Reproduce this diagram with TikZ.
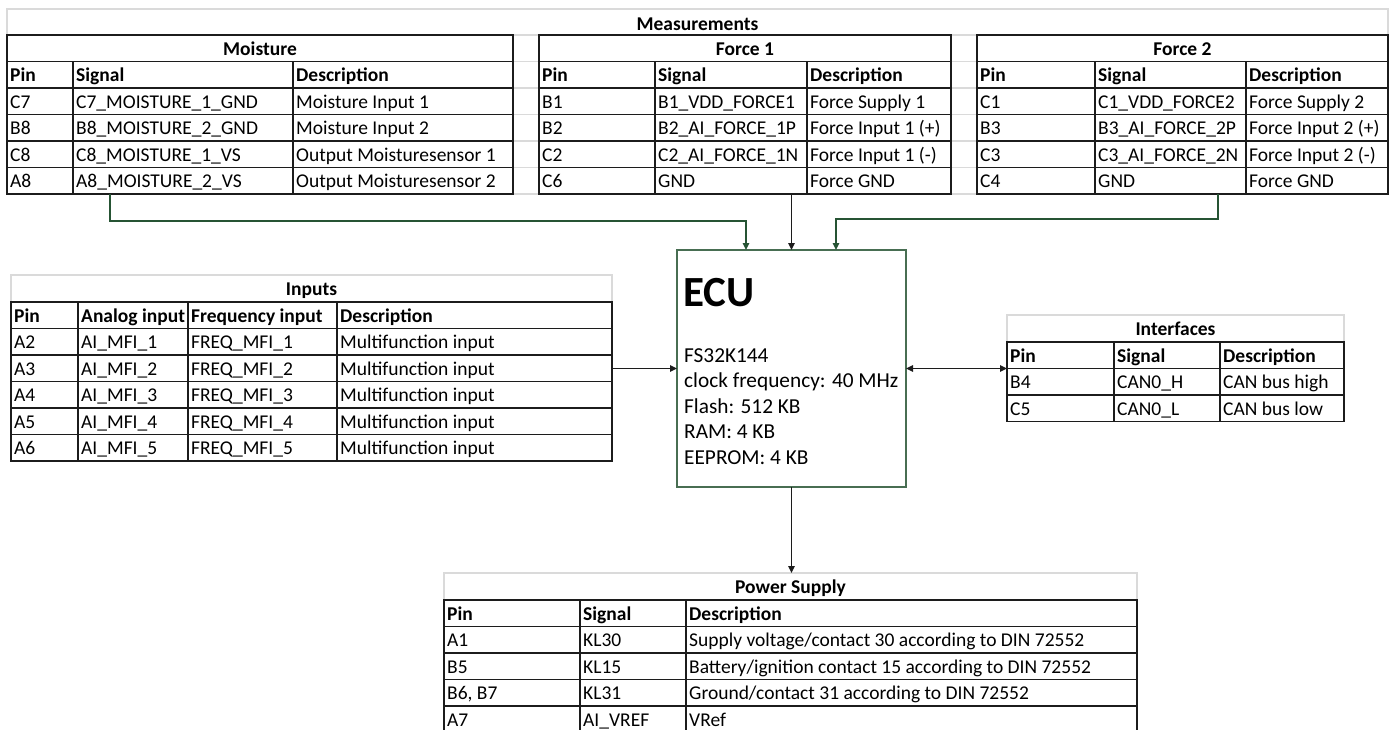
\documentclass[tikz,border=0pt]{standalone}
\usepackage{fontspec}
\setmainfont{Carlito}
\usetikzlibrary{arrows.meta}
\definecolor{gridgray}{RGB}{218,218,218}
\definecolor{ecugreen}{RGB}{72,110,82}
\definecolor{conngreen}{RGB}{38,84,52}
\definecolor{tline}{RGB}{28,28,28}
\newcommand\tabfont{\fontsize{19.5}{23}\selectfont}
\begin{document}
\begin{tikzpicture}[x=1pt,y=-1pt,
  tl/.style={draw=tline,line width=1.8pt},
  gl/.style={draw=gridgray,line width=1.4pt},
  frame/.style={draw=tline,line width=1.8pt,inner sep=0pt,outer sep=0pt,anchor=north west},
  headbox/.style={draw=gridgray,line width=1.4pt,inner sep=0pt,outer sep=0pt,anchor=north west},
  cell/.style={anchor=base west,inner sep=0pt,font=\tabfont},
  hcell/.style={anchor=base west,inner sep=0pt,font=\tabfont\bfseries},
  ttl/.style={anchor=base,inner sep=0pt,font=\tabfont\bfseries},
  conn/.style={line width=1.3pt,-{Triangle[length=7pt,width=6.5pt]}},
  bconn/.style={line width=1.3pt,{Triangle[length=7pt,width=6.5pt]}-{Triangle[length=7pt,width=6.5pt]}},
]
\useasboundingbox (0,0) rectangle (1395,729);

% ---------------- Measurements ----------------
\node[headbox,minimum width=1381pt,minimum height=26pt] (meashead) at (7,9) {};
\node[ttl] (meastitle) at (697.5,30) {Measurements};
\foreach \y in {35,61.5,88,114.5,141,167.5,194}{
  \draw[gl] (513,\y) -- (539,\y);
  \draw[gl] (951,\y) -- (977,\y);
}

% Moisture
\node[frame,minimum width=506pt,minimum height=159pt] (moist) at (7,35) {};
\foreach \y in {61.5,88,114.5,141,167.5} \draw[tl] (7,\y) -- (513,\y);
\foreach \x in {73,293} \draw[tl] (\x,61.5) -- (\x,194);
\node[ttl] (motitle) at (260,55) {Moisture};
\node[hcell] (moh1) at (10,81.5) {Pin};
\node[hcell] (moh2) at (76,81.5) {Signal};
\node[hcell] (moh3) at (296,81.5) {Description};
\foreach \a/\b/\c [count=\i] in {C7/C7\_MOISTURE\_1\_GND/Moisture Input 1,
  B8/B8\_MOISTURE\_2\_GND/Moisture Input 2,
  C8/C8\_MOISTURE\_1\_VS/Output Moisturesensor 1,
  A8/A8\_MOISTURE\_2\_VS/Output Moisturesensor 2}{
  \pgfmathsetmacro\yy{88+(\i-1)*26.5+20}
  \node[cell] (mo-\i-1) at (10,\yy) {\a};
  \node[cell] (mo-\i-2) at (76,\yy) {\b};
  \node[cell] (mo-\i-3) at (296,\yy) {\c};
}

% Force 1
\node[frame,minimum width=412pt,minimum height=159pt] (fone) at (539,35) {};
\foreach \y in {61.5,88,114.5,141,167.5} \draw[tl] (539,\y) -- (951,\y);
\foreach \x in {655,807} \draw[tl] (\x,61.5) -- (\x,194);
\node[ttl] (f1title) at (745,55) {Force 1};
\node[hcell] (f1h1) at (542,81.5) {Pin};
\node[hcell] (f1h2) at (658,81.5) {Signal};
\node[hcell] (f1h3) at (810,81.5) {Description};
\foreach \a/\b/\c [count=\i] in {B1/B1\_VDD\_FORCE1/Force Supply 1,
  B2/B2\_AI\_FORCE\_1P/Force Input 1 (+),
  C2/C2\_AI\_FORCE\_1N/Force Input 1 (-),
  C6/GND/Force GND}{
  \pgfmathsetmacro\yy{88+(\i-1)*26.5+20}
  \node[cell] (fa-\i-1) at (542,\yy) {\a};
  \node[cell] (fa-\i-2) at (658,\yy) {\b};
  \node[cell] (fa-\i-3) at (810,\yy) {\c};
}

% Force 2
\node[frame,minimum width=411pt,minimum height=159pt] (ftwo) at (977,35) {};
\foreach \y in {61.5,88,114.5,141,167.5} \draw[tl] (977,\y) -- (1388,\y);
\foreach \x in {1095,1246} \draw[tl] (\x,61.5) -- (\x,194);
\node[ttl] (f2title) at (1182.5,55) {Force 2};
\node[hcell] (f2h1) at (980,81.5) {Pin};
\node[hcell] (f2h2) at (1098,81.5) {Signal};
\node[hcell] (f2h3) at (1249,81.5) {Description};
\foreach \a/\b/\c [count=\i] in {C1/C1\_VDD\_FORCE2/Force Supply 2,
  B3/B3\_AI\_FORCE\_2P/Force Input 2 (+),
  C3/C3\_AI\_FORCE\_2N/Force Input 2 (-),
  C4/GND/Force GND}{
  \pgfmathsetmacro\yy{88+(\i-1)*26.5+20}
  \node[cell] (fb-\i-1) at (980,\yy) {\a};
  \node[cell] (fb-\i-2) at (1098,\yy) {\b};
  \node[cell] (fb-\i-3) at (1249,\yy) {\c};
}

% ---------------- Inputs ----------------
\node[headbox,minimum width=601pt,minimum height=27pt] (inphead) at (11,275) {};
\node[frame,minimum width=601pt,minimum height=159pt] (inp) at (11,302) {};
\foreach \y in {328.5,355,381.5,408,434.5} \draw[tl] (11,\y) -- (612,\y);
\foreach \x in {78,188,337} \draw[tl] (\x,302) -- (\x,461);
\node[ttl] (intitle) at (311.5,295) {Inputs};
\node[hcell] (inh1) at (14,322) {Pin};
\node[hcell] (inh2) at (81,322) {Analog input};
\node[hcell] (inh3) at (191,322) {Frequency input};
\node[hcell] (inh4) at (340,322) {Description};
\foreach \k in {1,...,5}{
  \pgfmathsetmacro\yy{328.5+(\k-1)*26.5+20}
  \pgfmathtruncatemacro\pn{\k+1}
  \node[cell] (in-\k-1) at (14,\yy) {A\pn};
  \node[cell] (in-\k-2) at (81,\yy) {AI\_MFI\_\k};
  \node[cell] (in-\k-3) at (191,\yy) {FREQ\_MFI\_\k};
  \node[cell] (in-\k-4) at (340,\yy) {Multifunction input};
}

% ---------------- Interfaces ----------------
\node[headbox,minimum width=337pt,minimum height=27pt] (ifhead) at (1007,315) {};
\node[frame,minimum width=337pt,minimum height=79.5pt] (intf) at (1007,342) {};
\foreach \y in {368.5,395} \draw[tl] (1007,\y) -- (1344,\y);
\foreach \x in {1114,1220} \draw[tl] (\x,342) -- (\x,421.5);
\node[ttl] (iftitle) at (1175.5,335) {Interfaces};
\node[hcell] (ifh1) at (1010,362) {Pin};
\node[hcell] (ifh2) at (1117,362) {Signal};
\node[hcell] (ifh3) at (1223,362) {Description};
\node[cell] (if-1-1) at (1010,388.5) {B4};
\node[cell] (if-1-2) at (1117,388.5) {CAN0\_H};
\node[cell] (if-1-3) at (1223,388.5) {CAN bus high};
\node[cell] (if-2-1) at (1010,415) {C5};
\node[cell] (if-2-2) at (1117,415) {CAN0\_L};
\node[cell] (if-2-3) at (1223,415) {CAN bus low};

% ---------------- Power Supply ----------------
\node[headbox,minimum width=693pt,minimum height=27pt] (pwrhead) at (444,573) {};
\node[frame,minimum width=693pt,minimum height=132.5pt] (pwr) at (444,600) {};
\foreach \y in {626.5,653,679.5,706} \draw[tl] (444,\y) -- (1137,\y);
\foreach \x in {580,686} \draw[tl] (\x,600) -- (\x,732.5);
\node[ttl] (pwtitle) at (790.5,593) {Power Supply};
\node[hcell] (pwh1) at (447,620) {Pin};
\node[hcell] (pwh2) at (583,620) {Signal};
\node[hcell] (pwh3) at (689,620) {Description};
\node[cell] (pw-1-1) at (447,646.5) {A1};
\node[cell] (pw-1-2) at (583,646.5) {KL30};
\node[cell] (pw-1-3) at (689,646.5) {Supply voltage/contact 30 according to DIN 72552};
\node[cell] (pw-2-1) at (447,673) {B5};
\node[cell] (pw-2-2) at (583,673) {KL15};
\node[cell] (pw-2-3) at (689,673) {Battery/ignition contact 15 according to DIN 72552};
\node[cell] (pw-3-1) at (447,699.5) {B6, B7};
\node[cell] (pw-3-2) at (583,699.5) {KL31};
\node[cell] (pw-3-3) at (689,699.5) {Ground/contact 31 according to DIN 72552};
\node[cell] (pw-4-1) at (447,726) {A7};
\node[cell] (pw-4-2) at (583,726) {AI\_VREF};
\node[cell] (pw-4-3) at (689,726) {VRef};

% ---------------- ECU ----------------
\node[draw=ecugreen,line width=1.3pt,inner sep=0pt,outer sep=0pt,anchor=north west,
      minimum width=229pt,minimum height=237pt] (ecu) at (677,250) {};
\node[anchor=base west,inner sep=0pt,font=\fontsize{43}{47}\selectfont\bfseries] (ecutitle) at (683,306) {ECU};
\foreach \t [count=\i] in {FS32K144,clock frequency: 40 MHz,Flash: 512 KB,RAM: 4 KB,EEPROM: 4 KB}{
  \pgfmathsetmacro\yy{362+(\i-1)*25.65}
  \node[anchor=base west,inner sep=0pt,font=\fontsize{21.3}{25}\selectfont] (ecul-\i) at (684,\yy) {\t};
}

% ---------------- Connectors ----------------
\draw[conn,color=conngreen] ([xshift=103pt]moist.south west) -- ++(0,27) -| ([xshift=-45.5pt]ecu.north);
\draw[conn,color=tline] (fone.south -| ecu.north) -- (ecu.north);
\draw[conn,color=conngreen] ([xshift=241pt]ftwo.south west) -- ++(0,25) -| ([xshift=44.5pt]ecu.north);
\draw[conn,color=tline] (inp.east |- ecu.west) -- (ecu.west);
\draw[bconn,color=tline] (ecu.east) -- (ecu.east -| intf.west);
\draw[conn,color=tline] (ecu.south) -- (pwrhead.north -| ecu.south);
\end{tikzpicture}
\end{document}
